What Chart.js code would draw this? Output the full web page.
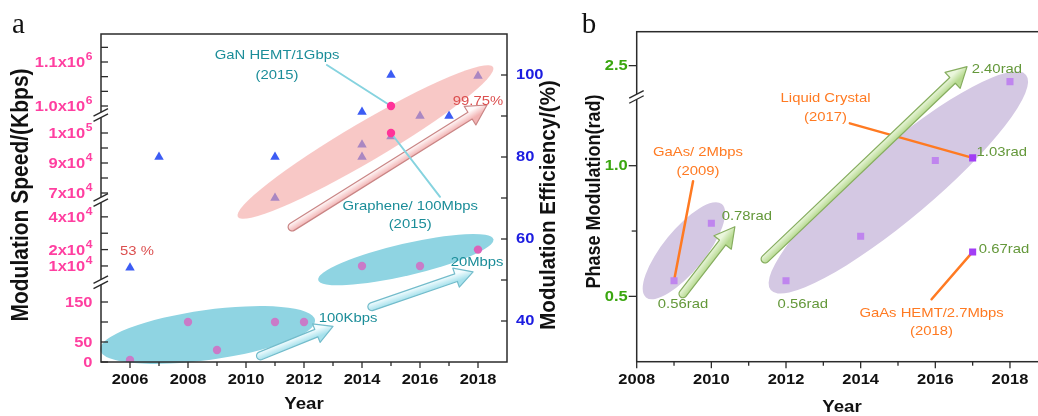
<!DOCTYPE html>
<html>
<head>
<meta charset="utf-8">
<script src="https://cdn.jsdelivr.net/npm/chart.js@4.4.1/dist/chart.umd.min.js"></script>
<style>
  html, body { margin: 0; padding: 0; background: #fff; width: 1038px; height: 416px; overflow: hidden; }
  #wrapA { position: absolute; left: 0; top: 0; width: 580px; height: 416px; }
  #wrapB { position: absolute; left: 560px; top: 0; width: 478px; height: 416px; overflow: hidden; }
  canvas { display: block; }
</style>
</head>
<body>
<div id="wrapA"><canvas id="chartA" width="580" height="416"></canvas></div>
<div id="wrapB"><canvas id="chartB" width="500" height="416"></canvas></div>
<script>
// ---------- Panel a: modulation speed (left, broken axis) and efficiency (right) ----------
const speedYears = [2006, 2008, 2009, 2011, 2012, 2014, 2016, 2018, 2015, 2015];
const speedKbps  = [5, 100, 30, 100, 100, 1e4, 1e4, 2e4, 1e5, 1e6];

const effYears   = [2006, 2007, 2011, 2011, 2014, 2014, 2014, 2015, 2015, 2016, 2017, 2018];
const effPercent = [53, 80, 80, 70, 91, 83, 80, 100, 85, 90, 90, 99.75];

const yearTicksA = [2006, 2008, 2010, 2012, 2014, 2016, 2018];
const speedTickMarks = [0, 50, 100, 150, 1e4, 2e4, 3e4, 4e4, 7e4, 8e4, 9e4, 9.5e4, 1e5,
                        1e6, 1.0333e6, 1.0667e6, 1.1e6, 1.1333e6];
const speedLabelValues = [0, 50, 150, 1e4, 2e4, 4e4, 7e4, 9e4, 1e5, 1e6, 1.1e6];
const speedLabelBase   = ['0', '50', '150', '1x10', '2x10', '4x10', '7x10', '9x10', '1x10', '1.0x10', '1.1x10'];
const speedLabelExp    = ['', '', '', '4', '4', '4', '4', '4', '5', '6', '6'];
const effTickMarks  = [40, 50, 60, 70, 80, 90, 100];
const effLabelValues = [40, 60, 80, 100];

// ---------- Panel b: phase modulation ----------
const phaseYears = [2009, 2010, 2012, 2014, 2016, 2017, 2017, 2018];
const phaseRad   = [0.56, 0.78, 0.56, 0.73, 1.02, 1.03, 0.67, 2.40];

const yearTicksB = [2008, 2010, 2012, 2014, 2016, 2018];
const phaseTickMarks = [0.5, 0.75, 1.0, 2.5];
const phaseLabelValues = [0.5, 1.0, 2.5];

// Broken value axes: piecewise-linear [value, offset from axis bottom] anchors
const brokenAxes = {
  ySpeed: {
    span: 328,
    anchors: [[0, 0], [200, 80], [5e4, 161.5], [6.6e4, 163], [7e4, 169], [9e4, 199],
              [1e5, 229], [1.06e5, 247], [9.8e5, 247.2], [1e6, 256], [1.2e6, 344]],
    breaks: [200, 5.8e4, 9.8e5]
  },
  yPhase: {
    span: 330,
    anchors: [[0.25, 0], [1.264, 265], [2.306, 265.1], [2.7125, 330]],
    breaks: [1.8]
  }
};

function brokenDecimal(cfg, v) {
  const a = cfg.anchors;
  let i = 1;
  while (i < a.length - 1 && v > a[i][0]) i++;
  const [v0, u0] = a[i - 1], [v1, u1] = a[i];
  return (u0 + (v - v0) * (u1 - u0) / (v1 - v0)) / cfg.span;
}

class BrokenLinearScale extends Chart.LinearScale {
  getPixelForValue(value) {
    if (value === null || value === undefined || isNaN(value)) return NaN;
    return this.getPixelForDecimal(brokenDecimal(brokenAxes[this.id], value));
  }
}
BrokenLinearScale.id = 'brokenLinear';
BrokenLinearScale.defaults = Chart.LinearScale.defaults;
Chart.register(BrokenLinearScale);

// ---------- drawing helpers ----------
const SANS = '"Liberation Sans", Arial, "Helvetica", sans-serif';
const SERIF = '"Liberation Serif", "Times New Roman", serif';
const STRETCH = 1.1;
const AXIS = '#2b2b2b';
const TEAL = '#1b8d99', RED = '#dc4f4f', GREEN = '#64983a', ORANGE = '#ff7a22';

function txt(ctx, s, x, y, font, color, align, rot, baseline) {
  ctx.save();
  ctx.font = font; ctx.fillStyle = color;
  ctx.textAlign = align || 'center'; ctx.textBaseline = baseline || 'middle';
  ctx.translate(x, y); ctx.scale(STRETCH, 1);
  if (rot) ctx.rotate(rot);
  ctx.fillText(s, 0, 0);
  ctx.restore();
}

// right-aligned tick label with an optional superscript exponent
function supLabel(ctx, base, exp, right, y, color) {
  const bf = 'bold 15px ' + SANS, ef = 'bold 11px ' + SANS;
  ctx.save();
  ctx.font = bf; const wb = ctx.measureText(base).width * STRETCH;
  ctx.font = ef; const we = exp ? (ctx.measureText(exp).width + 0.5) * STRETCH : 0;
  ctx.restore();
  const x0 = right - wb - we;
  const baseLine = y + 5.4;
  txt(ctx, base, x0, baseLine, bf, color, 'left', 0, 'alphabetic');
  if (exp) txt(ctx, exp, x0 + wb + 0.5, baseLine - 7, ef, color, 'left', 0, 'alphabetic');
}

function pt(chart, x, y, yId) {
  return { x: chart.scales.x.getPixelForValue(x), y: chart.scales[yId].getPixelForValue(y) };
}

function ellipse(ctx, p1, p2, b, fill) {
  const cx = (p1.x + p2.x) / 2, cy = (p1.y + p2.y) / 2;
  const a = Math.hypot(p2.x - p1.x, p2.y - p1.y) / 2;
  const ang = Math.atan2(p2.y - p1.y, p2.x - p1.x);
  ctx.save();
  ctx.beginPath();
  ctx.ellipse(cx, cy, a, b, ang, 0, Math.PI * 2);
  ctx.fillStyle = fill;
  ctx.fill();
  ctx.restore();
}

function blockArrow(ctx, p0, p1, st) {
  const dx = p1.x - p0.x, dy = p1.y - p0.y, len = Math.hypot(dx, dy);
  const s = st.shaft / 2, h = st.head / 2, L = len - st.headLen;
  ctx.save();
  ctx.translate(p0.x, p0.y);
  ctx.rotate(Math.atan2(dy, dx));
  ctx.beginPath();
  ctx.moveTo(0, -s);
  ctx.lineTo(L, -s); ctx.lineTo(L, -h); ctx.lineTo(len, 0);
  ctx.lineTo(L, h); ctx.lineTo(L, s); ctx.lineTo(0, s);
  ctx.arc(0, 0, s, Math.PI / 2, Math.PI * 1.5);
  ctx.closePath();
  const g = ctx.createLinearGradient(0, -s, 0, s);
  g.addColorStop(0, st.light);
  g.addColorStop(1, st.dark);
  ctx.fillStyle = g;
  ctx.fill();
  ctx.strokeStyle = st.edge; ctx.lineWidth = 1.2; ctx.lineJoin = 'round';
  ctx.stroke();
  ctx.restore();
}

function line(ctx, p0, p1, color, w) {
  ctx.save();
  ctx.strokeStyle = color; ctx.lineWidth = w; ctx.lineCap = 'round';
  ctx.beginPath(); ctx.moveTo(p0.x, p0.y); ctx.lineTo(p1.x, p1.y); ctx.stroke();
  ctx.restore();
}

function breakMark(ctx, x, y) {
  ctx.save();
  ctx.fillStyle = '#fff';
  ctx.fillRect(x - 2.5, y - 2.6, 5, 5.2);
  ctx.strokeStyle = AXIS; ctx.lineWidth = 1.4;
  for (const d of [-2.6, 2.6]) {
    ctx.beginPath();
    ctx.moveTo(x - 7.5, y + d + 4);
    ctx.lineTo(x + 7, y + d - 3.5);
    ctx.stroke();
  }
  ctx.restore();
}

function frame(ctx, area) {
  ctx.save();
  ctx.strokeStyle = AXIS; ctx.lineWidth = 1.5;
  ctx.strokeRect(area.left, area.top, area.right - area.left, area.bottom - area.top);
  ctx.restore();
}

function tick(ctx, x0, y0, x1, y1) {
  ctx.beginPath(); ctx.moveTo(x0, y0); ctx.lineTo(x1, y1); ctx.stroke();
}

const ARROW_PINK  = { shaft: 8, head: 22, headLen: 20, light: '#fffafa', dark: '#f2b3b3', edge: '#c98585' };
const ARROW_CYAN  = { shaft: 8, head: 20, headLen: 18, light: '#f4fdff', dark: '#a6e1ec', edge: '#73bccb' };
const ARROW_GREEN = { shaft: 8, head: 22, headLen: 20, light: '#eaf6dc', dark: '#b7da90', edge: '#86ad5f' };

function speedColor(v) {
  if (v >= 1e5) return '#ff3399';
  if (v >= 2e4) return '#dc62b8';
  return '#c97bc8';
}

// ---------- panel a decorations ----------
const pluginA = {
  id: 'panelA',
  beforeDatasetsDraw(chart) {
    const ctx = chart.ctx;
    ellipse(ctx, pt(chart, 2004.97, 32.93, 'yEff'), pt(chart, 2012.38, 40.24, 'yEff'), 25, '#8fd4e2');
    ellipse(ctx, pt(chart, 2012.49, 50.0, 'yEff'), pt(chart, 2018.53, 59.93, 'yEff'), 16, '#8fd4e2');
  },
  beforeDatasetDraw(chart, args) {
    if (args.index !== 1) return;
    const ctx = chart.ctx;
    ellipse(ctx, pt(chart, 2009.72, 65.37, 'yEff'), pt(chart, 2018.52, 101.95, 'yEff'), 19.5, 'rgba(243,163,160,0.6)');
    blockArrow(ctx, pt(chart, 2011.59, 62.93, 'yEff'), pt(chart, 2018.31, 92.68, 'yEff'), ARROW_PINK);
    line(ctx, pt(chart, 2012.79, 102.44, 'yEff'), pt(chart, 2015, 1e6, 'ySpeed'), '#86d3df', 2);
    line(ctx, pt(chart, 2015, 1e5, 'ySpeed'), pt(chart, 2016.69, 70.3, 'yEff'), '#86d3df', 2);
  },
  afterDatasetsDraw(chart) {
    const ctx = chart.ctx;
    blockArrow(ctx, pt(chart, 2010.5, 31.5, 'yEff'), pt(chart, 2013.0, 38.7, 'yEff'), ARROW_CYAN);
    blockArrow(ctx, pt(chart, 2014.34, 43.5, 'yEff'), pt(chart, 2017.83, 52.0, 'yEff'), ARROW_CYAN);
    const f = '13.5px ' + SANS;
    const notes = [
      ['GaN HEMT/1Gbps', 2011.07, 104.7, TEAL],
      ['(2015)', 2011.07, 100.0, TEAL],
      ['Graphene/ 100Mbps', 2015.66, 67.9, TEAL],
      ['(2015)', 2015.66, 63.7, TEAL],
      ['100Kbps', 2013.52, 40.7, TEAL],
      ['20Mbps', 2017.97, 54.2, TEAL],
      ['99.75%', 2018.0, 93.7, RED],
      ['53 %', 2006.24, 56.9, RED]
    ];
    for (const [s, x, y, c] of notes) {
      const p = pt(chart, x, y, 'yEff');
      txt(ctx, s, p.x, p.y, f, c, 'center');
    }
  },
  afterDraw(chart) {
    const ctx = chart.ctx, area = chart.chartArea;
    const xs = chart.scales.x, ys = chart.scales.ySpeed, ye = chart.scales.yEff;
    frame(ctx, area);
    ctx.save();
    ctx.strokeStyle = AXIS; ctx.lineWidth = 1.3;
    for (let yr = 2006; yr <= 2018; yr++) {
      const x = xs.getPixelForValue(yr);
      tick(ctx, x, area.bottom, x, area.bottom + (yr % 2 === 0 ? 6 : 4));
    }
    for (const v of speedTickMarks) {
      const y = ys.getPixelForValue(v);
      tick(ctx, area.left, y, area.left + 7, y);
    }
    for (const v of effTickMarks) {
      const y = ye.getPixelForValue(v);
      tick(ctx, area.right, y, area.right - 6, y);
    }
    ctx.restore();
    for (const b of brokenAxes.ySpeed.breaks) breakMark(ctx, area.left, ys.getPixelForValue(b));

    const bold = 'bold 15px ' + SANS;
    for (const yr of yearTicksA) txt(ctx, String(yr), xs.getPixelForValue(yr), area.bottom + 18, bold, '#111', 'center');
    speedLabelValues.forEach((v, i) =>
      supLabel(ctx, speedLabelBase[i], speedLabelExp[i], area.left - 8.5, ys.getPixelForValue(v), '#ff3fa0'));
    for (const v of effLabelValues) txt(ctx, String(v), area.right + 9, ye.getPixelForValue(v), bold, '#1c1ce0', 'left');

    txt(ctx, 'Modulation Speed/(Kbps)', area.left - 79.5, 195, 'bold 21px ' + SANS, '#111', 'center', -Math.PI / 2);
    txt(ctx, 'Modulation Efficiency/(%)', area.right + 42, 205, 'bold 20.5px ' + SANS, '#111', 'center', -Math.PI / 2);
    txt(ctx, 'Year', (area.left + area.right) / 2, area.bottom + 42, 'bold 17px ' + SANS, '#111', 'center');

    ctx.save();
    ctx.font = '29px ' + SERIF; ctx.fillStyle = '#111'; ctx.textAlign = 'center'; ctx.textBaseline = 'alphabetic';
    ctx.fillText('a', 18.5, 32.5);
    ctx.restore();
  }
};

new Chart(document.getElementById('chartA'), {
  type: 'scatter',
  data: {
    datasets: [
      {
        label: 'Modulation efficiency (%)',
        data: effYears.map((x, i) => ({ x, y: effPercent[i] })),
        yAxisID: 'yEff',
        pointStyle: 'triangle',
        pointRadius: 5.5,
        pointBackgroundColor: '#3c5cf4',
        pointBorderWidth: 0,
        order: 2
      },
      {
        label: 'Modulation speed (Kbps)',
        data: speedYears.map((x, i) => ({ x, y: speedKbps[i] })),
        yAxisID: 'ySpeed',
        pointStyle: 'circle',
        pointRadius: 4.2,
        pointBackgroundColor: c => speedColor(c.raw ? c.raw.y : 0),
        pointBorderWidth: 0,
        order: 1
      }
    ]
  },
  options: {
    responsive: false, animation: false, devicePixelRatio: 1, events: [],
    layout: { padding: { left: 101, right: 73, top: 34, bottom: 54 } },
    plugins: { legend: { display: false }, tooltip: { enabled: false } },
    scales: {
      x: { type: 'linear', min: 2005, max: 2019, display: false },
      ySpeed: { type: 'brokenLinear', position: 'left', min: 0, max: 1.2e6, display: false },
      yEff: { type: 'linear', position: 'right', min: 30, max: 110, display: false }
    }
  },
  plugins: [pluginA]
});

// ---------- panel b decorations ----------
const phaseLabelSpots = [
  [0, 2009.24, 0.4706], [1, 2010.95, 0.8076], [2, 2012.45, 0.4706],
  [5, 2017.78, 1.0514], [6, 2017.84, 0.680], [7, 2017.65, 2.479]
];

const pluginB = {
  id: 'panelB',
  beforeDatasetsDraw(chart) {
    const ctx = chart.ctx;
    ellipse(ctx, pt(chart, 2008.25, 0.496, 'yPhase'), pt(chart, 2010.28, 0.853, 'yPhase'), 21, '#d4c8e3');
    ellipse(ctx, pt(chart, 2011.59, 0.524, 'yPhase'), pt(chart, 2018.43, 2.442, 'yPhase'), 36, '#d4c8e3');
    line(ctx, pt(chart, 2009.51, 0.9406, 'yPhase'), pt(chart, phaseYears[0], phaseRad[0], 'yPhase'), ORANGE, 2.5);
    line(ctx, pt(chart, 2013.71, 1.162, 'yPhase'), pt(chart, phaseYears[5], phaseRad[5], 'yPhase'), ORANGE, 2.5);
    line(ctx, pt(chart, 2015.90, 0.4888, 'yPhase'), pt(chart, phaseYears[6], phaseRad[6], 'yPhase'), ORANGE, 2.5);
    blockArrow(ctx, pt(chart, 2009.24, 0.51, 'yPhase'), pt(chart, 2010.63, 0.7666, 'yPhase'), ARROW_GREEN);
    blockArrow(ctx, pt(chart, 2011.44, 0.643, 'yPhase'), pt(chart, 2016.85, 2.494, 'yPhase'), ARROW_GREEN);
  },
  afterDatasetsDraw(chart) {
    const ctx = chart.ctx;
    const f = '13.5px ' + SANS;
    for (const [i, x, y] of phaseLabelSpots) {
      const p = pt(chart, x, y, 'yPhase');
      txt(ctx, phaseRad[i].toFixed(2) + 'rad', p.x, p.y, f, GREEN, 'center');
    }
    const notes = [
      ['GaAs/ 2Mbps', 2009.64, 1.0514], ['(2009)', 2009.64, 0.98],
      ['Liquid Crystal', 2013.06, 1.258], ['(2017)', 2013.06, 1.184],
      ['GaAs HEMT/2.7Mbps', 2015.90, 0.437], ['(2018)', 2015.90, 0.3665]
    ];
    for (const [s, x, y] of notes) {
      const p = pt(chart, x, y, 'yPhase');
      txt(ctx, s, p.x, p.y, f, ORANGE, 'center');
    }
  },
  afterDraw(chart) {
    const ctx = chart.ctx, area = chart.chartArea;
    const xs = chart.scales.x, yp = chart.scales.yPhase;
    frame(ctx, area);
    ctx.save();
    ctx.strokeStyle = AXIS; ctx.lineWidth = 1.3;
    for (let yr = 2008; yr <= 2019; yr++) {
      const x = xs.getPixelForValue(yr);
      tick(ctx, x, area.bottom, x, area.bottom + (yr % 2 === 0 ? 6.5 : 4));
    }
    for (const v of phaseTickMarks) {
      const y = yp.getPixelForValue(v);
      tick(ctx, area.left, y, area.left - (phaseLabelValues.includes(v) ? 8 : 5), y);
    }
    ctx.restore();
    for (const b of brokenAxes.yPhase.breaks) breakMark(ctx, area.left, yp.getPixelForValue(b));

    const bold = 'bold 15px ' + SANS;
    for (const yr of yearTicksB) txt(ctx, String(yr), xs.getPixelForValue(yr), area.bottom + 18, bold, '#111', 'center');
    for (const v of phaseLabelValues) txt(ctx, v.toFixed(1), area.left - 9, yp.getPixelForValue(v), bold, '#3aa60f', 'right');

    txt(ctx, 'Phase Modulation(rad)', area.left - 42, 191.5, 'bold 18px ' + SANS, '#111', 'center', -Math.PI / 2);
    txt(ctx, 'Year', (area.left + area.right) / 2, area.bottom + 46, 'bold 17px ' + SANS, '#111', 'center');

    ctx.save();
    ctx.font = '29px ' + SERIF; ctx.fillStyle = '#111'; ctx.textAlign = 'center'; ctx.textBaseline = 'alphabetic';
    ctx.fillText('b', 29, 33);
    ctx.restore();
  }
};

new Chart(document.getElementById('chartB'), {
  type: 'scatter',
  data: {
    datasets: [{
      label: 'Phase modulation (rad)',
      data: phaseYears.map((x, i) => ({ x, y: phaseRad[i] })),
      yAxisID: 'yPhase',
      pointStyle: 'rect',
      pointRadius: 5,
      pointBackgroundColor: c => (c.raw && c.raw.x === 2017 ? '#a23ef5' : '#bf85ee'),
      pointBorderWidth: 0
    }]
  },
  options: {
    responsive: false, animation: false, devicePixelRatio: 1, events: [],
    layout: { padding: { left: 76.7, right: 12.7, top: 31.7, bottom: 54.3 } },
    plugins: { legend: { display: false }, tooltip: { enabled: false } },
    scales: {
      x: { type: 'linear', min: 2008, max: 2019, display: false },
      yPhase: { type: 'brokenLinear', position: 'left', min: 0.25, max: 2.7125, display: false }
    }
  },
  plugins: [pluginB]
});
</script>
</body>
</html>
